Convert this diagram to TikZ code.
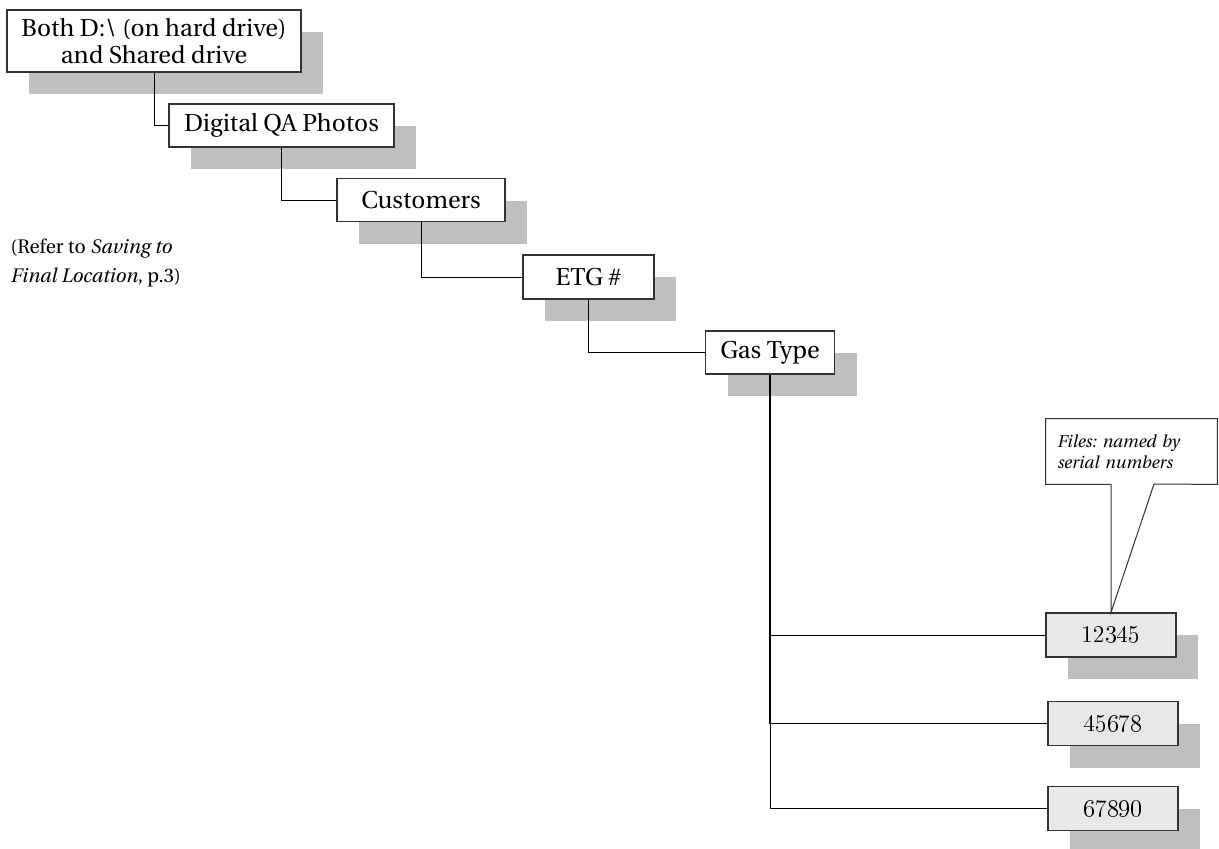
\documentclass[tikz,border=0pt]{standalone}
\usepackage[T1]{fontenc}
\renewcommand{\rmdefault}{put}
\usepackage{tikz}
\usetikzlibrary{shadows}
\frenchspacing

\tikzset{
  folder/.style={draw=black!80, fill=white, line width=0.6pt, inner sep=0pt,
    minimum height=21.5pt, align=center,
    font=\fontsize{12.2}{13.5}\selectfont,
    drop shadow={shadow xshift=11pt, shadow yshift=-11pt, fill=gray!50, opacity=1}},
  leaf/.style={folder, fill=gray!18, minimum width=65pt, minimum height=22pt,
    font=\fontfamily{lmr}\fontsize{12}{13.5}\selectfont},
  branch/.style={line width=0.5pt, black},
  trunk/.style={line width=1.1pt, black}
}

\begin{document}
\begin{tikzpicture}[x=0.5pt, y=-0.5pt]
        \useasboundingbox (0,0) rectangle (1219,848);

        % folder chain
        \node[folder, minimum width=147pt, minimum height=31pt] (root) at (154,41)
            {Both D:\textbackslash{} (on hard drive)\\and Shared drive};
        \node[folder, minimum width=112.5pt] (photos) at (281.5,125.5) {Digital QA Photos};
        \node[folder, minimum width=84pt] (cust) at (421,200) {Customers};
        \node[folder, minimum width=65.5pt, minimum height=22pt] (etg) at (588.5,277) {ETG \#};
        \node[folder, minimum width=64.5pt] (gas) at (770,352.5) {Gas Type};

        % serial number files
        \node[leaf] (n1) at (1111,635) {12345};
        \node[leaf] (n2) at (1113,723.5) {45678};
        \node[leaf] (n3) at (1113,808.5) {67890};

        \node[anchor=west, inner sep=0pt, align=left, font=\fontsize{9.8}{14.5}\selectfont] (refer) at (10,263)
            {(Refer to \textit{Saving to}\\\textit{Final Location}, p.3)};

        \draw[branch] (root.south) |- (photos.west);
        \draw[branch] (photos.south) |- (cust.west);
        \draw[branch] (cust.south) |- (etg.west);
        \draw[branch] (etg.south) |- (gas.west);
        \draw[trunk] (gas.south) -- (gas.south |- n2.west);
        \draw[branch] (gas.south) |- (n1.west);
        \draw[branch] (gas.south) |- (n2.west);
        \draw[branch] (gas.south) |- (n3.west);

        % callout note
        \node[inner xsep=5.5pt, inner ysep=0pt, text width=74.5pt, minimum height=32.5pt, align=left,
            font=\itshape\fontsize{8.6}{10.5}\selectfont] (note) at (1131.5,451.5)
            {Files: named by\\serial numbers};
        \coordinate (wl) at (n1.north |- note.south);
        \coordinate (wr) at (1154,484);
        \draw[branch, draw=black!80] (note.south west) -- (note.north west) -- (note.north east)
            -- (note.south east) -- (wr) -- (n1.north) -- (wl) -- cycle;
    \end{tikzpicture}
\end{document}
